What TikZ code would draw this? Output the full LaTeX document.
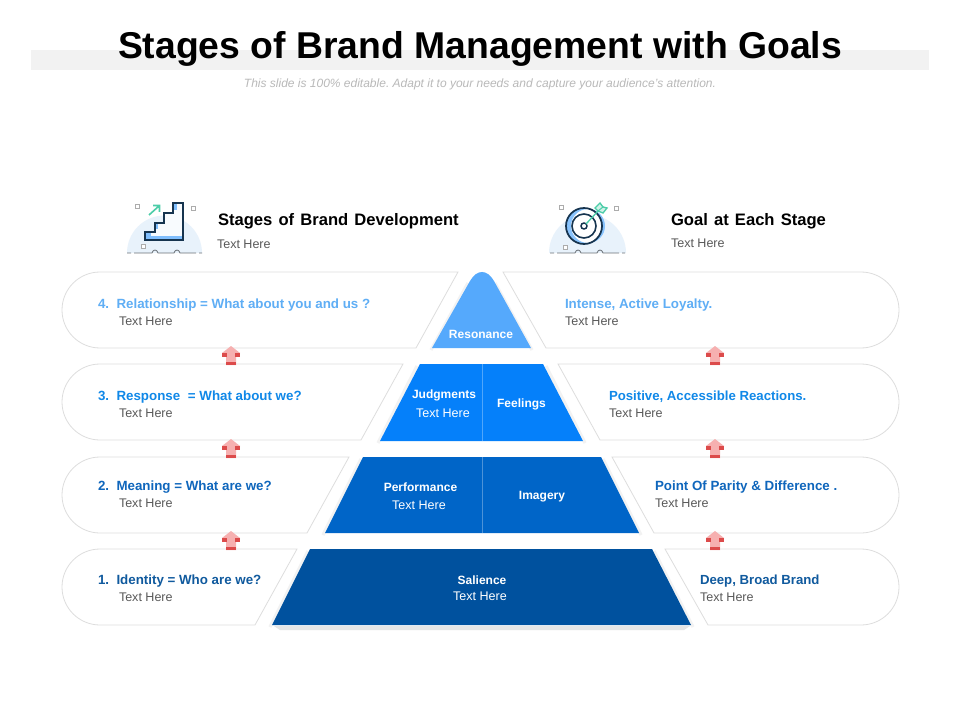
\documentclass[tikz,border=0pt]{standalone}
\usepackage{fontspec}
\setmainfont{Liberation Sans}
\usetikzlibrary{calc}
\definecolor{cA}{HTML}{55A9FC}
\definecolor{cB}{HTML}{0580FA}
\definecolor{cC}{HTML}{0065C8}
\definecolor{cD}{HTML}{00519E}
\definecolor{tA}{HTML}{5FAEF5}
\definecolor{tB}{HTML}{1088E8}
\definecolor{tC}{HTML}{0F66BC}
\definecolor{tD}{HTML}{105A9E}
\definecolor{bandgray}{HTML}{F2F2F2}
\definecolor{rimgray}{HTML}{DDDDDD}
\definecolor{bodygray}{HTML}{595959}
\definecolor{dome}{HTML}{E8F2FB}
\definecolor{navy}{HTML}{16344F}
\definecolor{mint}{HTML}{4CCDA8}
\definecolor{pinkarrow}{HTML}{F6B0B0}
\definecolor{redbar}{HTML}{DC4B4B}
\tikzset{
  px/.style={x=0.75pt,y=-0.75pt},
  txt/.style={inner sep=0pt,outer sep=0pt,anchor=west},
  head/.style={txt,font=\fontsize{10pt}{11pt}\selectfont\bfseries},
  sub/.style={txt,font=\fontsize{9.4pt}{11pt}\selectfont,text=bodygray},
  bighead/.style={txt,font=\fontsize{12.45pt}{14pt}\selectfont\bfseries},
  onblue/.style={inner sep=0pt,outer sep=0pt,text=white,font=\fontsize{9pt}{10pt}\selectfont\bfseries},
  onbluesub/.style={inner sep=0pt,outer sep=0pt,text=white,font=\fontsize{9.4pt}{10pt}\selectfont},
  rim/.style={draw=rimgray,line width=0.6pt,fill=white},
  halo/.style={line width=2.4pt,line join=round},
  iconline/.style={draw=navy,line width=1.5pt,line join=miter},
  speck/.style={draw=gray!65,line width=0.5pt,fill=white},
  ground/.style={draw=gray!80!navy,line width=0.6pt},
}
\newcommand{\upmark}[2]{%
  \fill[pinkarrow] (#1,#2-9) -- (#1+9,#2-2) -- (#1+5,#2-2) -- (#1+5,#2+10) -- (#1-5,#2+10) -- (#1-5,#2-2) -- (#1-9,#2-2) -- cycle;
  \fill[redbar] (#1-9,#2-2) rectangle (#1-4,#2+1.5);
  \fill[redbar] (#1+4,#2-2) rectangle (#1+9,#2+1.5);
  \fill[redbar] (#1-5,#2+7) rectangle (#1+5,#2+10);
}
\newcommand{\groundline}[1]{%
  \draw[ground] (#1-37,253) -- (#1-33,253) (#1-30,253) -- (#1-12,253)
    .. controls (#1-11,249) and (#1-7,249) .. (#1-6,253) -- (#1+10,253)
    .. controls (#1+11,249) and (#1+15,249) .. (#1+16,253) -- (#1+32,253) (#1+35,253) -- (#1+38,253);
}
\newcommand{\wg}{\hspace{1.15pt}}
\begin{document}
\frenchspacing
\begin{tikzpicture}[px]
\useasboundingbox (0,0) rectangle (960,720);
\fill[white] (0,0) rectangle (960,720);
% title
\fill[bandgray] (31,50) rectangle (929,70);
\node[inner sep=0pt,font=\fontsize{28pt}{32pt}\selectfont\bfseries] (title) at (480,49) {Stages of Brand Management with Goals};
\node[inner sep=0pt,text=gray!55,font=\fontsize{9pt}{11pt}\selectfont\itshape] (subtitle) at (480,84.5) {This slide is 100\% editable. Adapt it to your needs and capture your audience's attention.};
% left panels
\foreach \t/\tr/\br in {272/458/416,364/403/361,457/349/307,549/297/255}{
  \draw[rim] (100,\t) -- (\tr,\t) -- (\br,\t+76) -- (100,\t+76) arc[start angle=270,end angle=90,radius=38*0.75pt] -- cycle;
}
% right panels
\foreach \t/\tl/\bl in {272/503/546,364/558/600,457/612/654,549/665/708}{
  \draw[rim] (\tl,\t) -- (861,\t) arc[start angle=90,end angle=-90,radius=38*0.75pt] -- (\bl,\t+76) -- cycle;
}
% pyramid shadow
\fill[black!10] (274,626) -- (690,626) -- (684,630) -- (280,630) -- cycle;
% soft edges of the pyramid tiers
\draw[halo,draw=black!5] (431,350) -- (468,283) (532,350) -- (495,283);
\draw[halo,draw=black!5] (378,443) -- (417,366) (585,443) -- (546,366);
\draw[halo,draw=black!5] (323,535) -- (361,459) (641,535) -- (603,459);
\draw[halo,draw=black!5] (270,627) -- (308,551) (693,627) -- (654,551);
% pyramid
\fill[cA] (432,348) -- (470,281) .. controls (477,269) and (487,269) .. (494,281) -- (531,348) -- cycle;
\fill[cB] (420,364) -- (543,364) -- (583,441) -- (380,441) -- cycle;
\fill[cC] (363,457) -- (601,457) -- (639,533) -- (325,533) -- cycle;
\fill[cD] (310,549) -- (652,549) -- (691,625) -- (272,625) -- cycle;
\draw[white,opacity=.3,line width=0.6pt] (482,364) -- (482,441);
\draw[white,opacity=.3,line width=0.6pt] (482,457) -- (482,533);
% pyramid labels
\node[onblue] (res) at (481,334) {Resonance};
\node[onblue] (jud) at (444,395) {Judgments};
\node[onbluesub] (judt) at (443,413) {Text Here};
\node[onblue] (fee) at (521.5,404) {Feelings};
\node[onblue] (perf) at (420.5,487) {Performance};
\node[onbluesub] (perft) at (419,505) {Text Here};
\node[onblue] (ima) at (542,497) {Imagery};
\node[onblue] (sal) at (482,580) {Salience};
\node[onbluesub] (salt) at (480,596) {Text Here};
% left texts
\node[head,text=tA] (l4) at (98,305) {4.\ \ Relationship = What about you and us ?};
\node[sub] (l4t) at (119,321) {Text Here};
\node[head,text=tB] (l3) at (98,397) {3.\ \ Response\hspace{3pt} = What about we?};
\node[sub] (l3t) at (119,413) {Text Here};
\node[head,text=tC] (l2) at (98,487) {2.\ \ Meaning = What are we?};
\node[sub] (l2t) at (119,503) {Text Here};
\node[head,text=tD] (l1) at (98,581) {1.\ \ Identity = Who are we?};
\node[sub] (l1t) at (119,597) {Text Here};
% right texts
\node[head,text=tA] (r4) at (565,305) {Intense, Active Loyalty.};
\node[sub] (r4t) at (565,321) {Text Here};
\node[head,text=tB,font=\fontsize{9.9pt}{11pt}\selectfont\bfseries] (r3) at (609,397) {Positive, Accessible Reactions.};
\node[sub] (r3t) at (609,413) {Text Here};
\node[head,text=tC] (r2) at (655,487) {Point Of Parity \& Difference .};
\node[sub] (r2t) at (655,503) {Text Here};
\node[head,text=tD,font=\fontsize{9.9pt}{11pt}\selectfont\bfseries] (r1) at (700,581) {Deep, Broad Brand};
\node[sub] (r1t) at (700,597) {Text Here};
% arrows
\foreach \y in {355,448,540}{ \upmark{231}{\y} \upmark{715}{\y} }
% column headers
\node[bighead] (hl) at (218,221) {Stages \wg of \wg Brand \wg Development};
\node[sub] (hlt) at (217,244) {Text Here};
\node[bighead] (hr) at (671,221) {Goal \wg at \wg Each \wg Stage};
\node[sub] (hrt) at (671,243) {Text Here};
% stairs icon
\fill[dome] (127,253) arc[start angle=180,end angle=0,radius=37.5*0.75pt] -- cycle;
\groundline{164}
\draw[speck] (135,204) rectangle (139,208);
\draw[speck] (191,206) rectangle (195,210);
\draw[speck] (141,244) rectangle (145,248);
\fill[white!70!dome] (145,240) -- (145,232) -- (155,232) -- (155,223) -- (164,223) -- (164,213) -- (173,213) -- (173,203) -- (183,203) -- (183,240) -- cycle;
\fill[cA!75] (146,232) rectangle (151,239);
\fill[cA!75] (146,236) rectangle (182,239);
\fill[cA!75] (155,223) rectangle (158,229);
\fill[cA!75] (173,204) rectangle (177,210);
\draw[iconline] (145,240) -- (145,232) -- (155,232) -- (155,223) -- (164,223) -- (164,213) -- (173,213) -- (173,203) -- (183,203) -- (183,240) -- cycle;
\draw[mint,line width=1.2pt] (149,215) -- (159,206) (153,205.5) -- (159.5,205.5) -- (159.5,212);
% target icon
\fill[dome] (549,253) arc[start angle=180,end angle=0,radius=38.5*0.75pt] -- cycle;
\groundline{587}
\draw[speck] (559,205) rectangle (563,209);
\draw[speck] (614,206) rectangle (618,210);
\draw[speck] (563,245) rectangle (567,249);
\fill[white] (584,226) circle[radius=18*0.75pt];
\fill[cA!70,even odd rule] (584,226) circle[radius=18*0.75pt] (588,226) circle[radius=17*0.75pt];
\draw[navy,line width=1.3pt] (584,226) circle[radius=18*0.75pt];
\draw[navy,line width=1.2pt] (584,226) circle[radius=12*0.75pt];
\draw[navy,line width=1.1pt] (584,226) circle[radius=3*0.75pt];
\draw[mint,line width=1pt] (586,224) -- (598,211);
\draw[mint,line width=1pt,fill=mint!25] (598,211) -- (595,208) -- (600,203) -- (603,207) -- (607,208) -- (603,213) -- cycle;
\draw[mint,line width=.8pt] (598,211) -- (603,207);
\end{tikzpicture}
\end{document}
